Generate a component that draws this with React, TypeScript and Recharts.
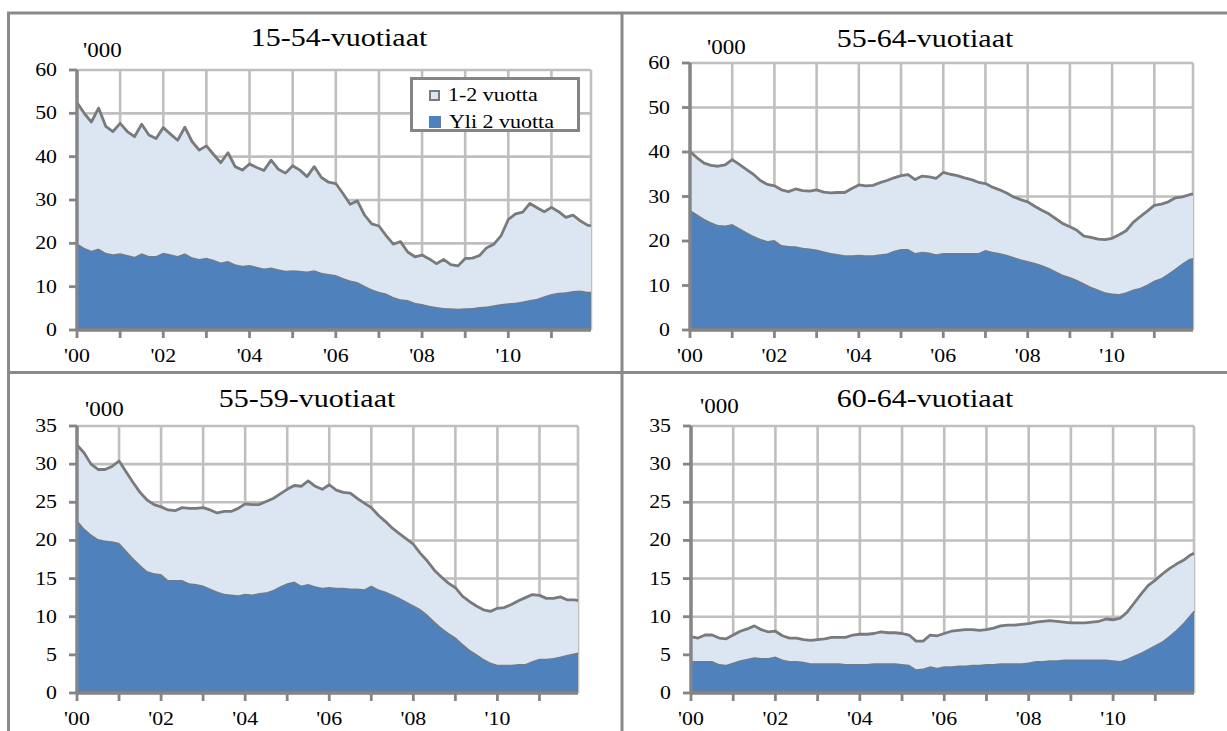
import React from 'react';
import { AreaChart, Area, XAxis, YAxis, CartesianGrid, Legend } from 'recharts';

// months since Jan 2000 (bimonthly readings, last point Dec 2011)
const months = [
  0, 2, 4, 6, 8, 10, 12, 14, 16, 18, 20, 22,
  24, 26, 28, 30, 32, 34, 36, 38, 40, 42, 44, 46,
  48, 50, 52, 54, 56, 58, 60, 62, 64, 66, 68, 70,
  72, 74, 76, 78, 80, 82, 84, 86, 88, 90, 92, 94,
  96, 98, 100, 102, 104, 106, 108, 110, 112, 114, 116, 118,
  120, 122, 124, 126, 128, 130, 132, 134, 136, 138, 140, 142,
  143,
];

const yearTicks = [0, 12, 24, 36, 48, 60, 72, 84, 96, 108, 120, 132];
const yearLabels = ["'00", '', "'02", '', "'04", '', "'06", '', "'08", '', "'10", ''];

const ticks60 = [0, 10, 20, 30, 40, 50, 60];
const ticks35 = [0, 5, 10, 15, 20, 25, 30, 35];

const panelTitles = ['15-54-vuotiaat', '55-64-vuotiaat', '55-59-vuotiaat', '60-64-vuotiaat'];
const unitLabel = "'000";
const legendNames = ['1-2 vuotta', 'Yli 2 vuotta'];

// 15-54-vuotiaat
const tlYli2 = [
  20, 19, 18.3, 18.8, 17.8, 17.5, 17.7, 17.3, 16.9, 17.7, 17.1, 17.1,
  17.8, 17.5, 17.1, 17.7, 16.8, 16.4, 16.7, 16.2, 15.6, 15.9, 15.2, 14.8,
  15, 14.6, 14.2, 14.4, 14, 13.7, 13.8, 13.7, 13.5, 13.8, 13.2, 12.9,
  12.7, 12, 11.4, 11.1, 10.2, 9.4, 8.8, 8.4, 7.6, 7.1, 6.9, 6.3,
  6, 5.6, 5.3, 5.1, 5, 4.9, 5, 5.1, 5.3, 5.4, 5.7, 6,
  6.2, 6.3, 6.6, 6.9, 7.2, 7.8, 8.3, 8.6, 8.7, 9, 9.1, 8.8,
  8.8,
];
const tlV12 = [
  32.5, 31, 29.7, 32.4, 29.2, 28.3, 30, 28.5, 27.7, 29.8, 27.9, 27.1,
  28.9, 27.7, 26.7, 29.1, 26.7, 25.1, 25.8, 24.3, 23, 25, 22.5, 22.1,
  23.3, 22.9, 22.6, 24.8, 23.1, 22.5, 24.1, 23.2, 21.9, 23.9, 22, 21.2,
  21.1, 19.5, 17.6, 18.7, 16.3, 15.1, 15.2, 13.4, 12.2, 13.3, 11.1, 10.6,
  11.3, 10.8, 10, 11.2, 10.1, 9.9, 11.5, 11.5, 11.9, 13.6, 14.1, 15.8,
  19.3, 20.5, 20.6, 22.3, 21, 19.5, 20, 18.7, 17.3, 17.5, 16.1, 15.4,
  15.2,
];

// 55-64-vuotiaat
const trYli2 = [
  27, 26, 25, 24.2, 23.6, 23.5, 23.8, 22.9, 22, 21.2, 20.5, 20,
  20.2, 19.1, 18.9, 18.8, 18.5, 18.3, 18.1, 17.7, 17.3, 17.1, 16.8, 16.8,
  16.9, 16.8, 16.8, 17, 17.2, 17.8, 18.2, 18.2, 17.3, 17.6, 17.4, 17,
  17.3, 17.3, 17.3, 17.3, 17.3, 17.3, 18, 17.6, 17.3, 16.9, 16.4, 15.9,
  15.5, 15.1, 14.6, 14, 13.2, 12.4, 11.9, 11.3, 10.5, 9.7, 9.1, 8.5,
  8.2, 8.1, 8.5, 9.1, 9.5, 10.2, 11.1, 11.7, 12.7, 13.8, 15, 16,
  16.2,
];
const trV12 = [
  13.1, 12.7, 12.5, 12.8, 13.2, 13.6, 14.5, 14.3, 14.1, 13.8, 13.1, 12.7,
  12.2, 12.4, 12.2, 12.9, 12.8, 12.9, 13.4, 13.3, 13.5, 13.8, 14.1, 15,
  15.7, 15.6, 15.7, 16.1, 16.4, 16.4, 16.5, 16.7, 16.5, 17, 17, 17.1,
  18.1, 17.7, 17.4, 16.9, 16.5, 15.9, 14.9, 14.5, 14.2, 13.9, 13.5, 13.4,
  13.3, 12.7, 12.3, 12.1, 11.8, 11.5, 11.3, 11.1, 10.6, 11.1, 11.3, 11.8,
  12.4, 13.3, 13.8, 15.1, 16, 16.5, 16.9, 16.6, 16.1, 15.9, 14.9, 14.4,
  14.4,
];

// 55-59-vuotiaat
const blYli2 = [
  22.7, 21.6, 20.8, 20.2, 20, 19.9, 19.7, 18.7, 17.7, 16.8, 16, 15.7,
  15.6, 14.8, 14.8, 14.8, 14.4, 14.3, 14.1, 13.7, 13.3, 13, 12.9, 12.8,
  13, 12.9, 13.1, 13.2, 13.5, 14, 14.4, 14.6, 14.1, 14.3, 14, 13.8,
  13.9, 13.8, 13.8, 13.7, 13.7, 13.6, 14.1, 13.6, 13.3, 12.9, 12.5, 12,
  11.5, 11, 10.3, 9.4, 8.6, 7.9, 7.3, 6.5, 5.7, 5.1, 4.5, 4,
  3.7, 3.7, 3.7, 3.8, 3.8, 4.2, 4.5, 4.5, 4.6, 4.8, 5, 5.2,
  5.3,
];
const blV12 = [
  9.8, 9.9, 9.2, 9.1, 9.3, 9.8, 10.7, 10.3, 9.9, 9.5, 9.3, 9,
  8.8, 9.2, 9.1, 9.5, 9.8, 9.9, 10.2, 10.3, 10.3, 10.8, 10.9, 11.4,
  11.8, 11.8, 11.6, 11.9, 12, 12.1, 12.3, 12.6, 13, 13.5, 13.1, 12.9,
  13.4, 12.8, 12.5, 12.5, 11.8, 11.3, 10.2, 9.7, 9.2, 8.7, 8.4, 8.2,
  8, 7.3, 7, 6.7, 6.6, 6.5, 6.5, 6.2, 6.3, 6.3, 6.4, 6.7,
  7.4, 7.5, 7.9, 8.3, 8.7, 8.7, 8.3, 7.9, 7.8, 7.8, 7.2, 7,
  6.8,
];

// 60-64-vuotiaat
const brYli2 = [
  4.2, 4.2, 4.2, 4.2, 3.8, 3.7, 4, 4.3, 4.5, 4.7, 4.6, 4.6,
  4.8, 4.4, 4.2, 4.2, 4.1, 3.9, 3.9, 3.9, 3.9, 3.9, 3.8, 3.8,
  3.8, 3.8, 3.9, 3.9, 3.9, 3.9, 3.8, 3.7, 3.1, 3.2, 3.5, 3.3,
  3.5, 3.5, 3.6, 3.6, 3.7, 3.7, 3.8, 3.8, 3.9, 3.9, 3.9, 3.9,
  4, 4.2, 4.2, 4.3, 4.3, 4.4, 4.4, 4.4, 4.4, 4.4, 4.4, 4.4,
  4.3, 4.2, 4.5, 4.9, 5.3, 5.8, 6.3, 6.8, 7.5, 8.3, 9.2, 10.3,
  10.8,
];
const brV12 = [
  3.2, 3, 3.4, 3.4, 3.4, 3.4, 3.6, 3.8, 3.9, 4.1, 3.7, 3.4,
  3.3, 3.1, 3, 3, 2.9, 3, 3.1, 3.2, 3.4, 3.4, 3.5, 3.8,
  3.9, 3.9, 3.9, 4.1, 4, 4, 4, 3.9, 3.7, 3.6, 4.1, 4.2,
  4.3, 4.6, 4.6, 4.7, 4.6, 4.5, 4.5, 4.7, 4.9, 5, 5, 5.1,
  5.1, 5.1, 5.2, 5.2, 5.1, 4.9, 4.8, 4.8, 4.8, 4.9, 5, 5.3,
  5.3, 5.6, 6.1, 6.9, 7.7, 8.3, 8.5, 8.8, 8.8, 8.6, 8.2, 7.8,
  7.5,
];

const BLUE = '#4f81bd';
const LIGHT = '#dce6f2';
const LINE = '#7a7a7a';
const AXIS = '#858585';
const GRID = '#bfbfbf';
const FRAME = '#8a8a8a';
const FONT = 'Liberation Serif';

function buildRows(yli2: number[], v12: number[]) {
  return months.map((m, i) => ({ m, yli2: yli2[i], v12: v12[i] }));
}

const YTick = (props: any) => {
  const { x, y, payload } = props;
  return (
    <g transform={`translate(${x},${y}) scale(1.15,1)`}>
      <text x={0} y={0} dy={6} textAnchor="end" fontFamily={FONT} fontSize={19} fill="#000">
        {payload.value}
      </text>
    </g>
  );
};

const XTick = (props: any) => {
  const { x, y, index } = props;
  return (
    <g transform={`translate(${x},${y}) scale(1.15,1)`}>
      <text x={0} y={0} dy={22} textAnchor="middle" fontFamily={FONT} fontSize={19} fill="#000">
        {yearLabels[index]}
      </text>
    </g>
  );
};

const LegendBox = () => (
  <div
    style={{
      width: 170,
      height: 55,
      boxSizing: 'border-box',
      border: `3px solid ${AXIS}`,
      background: '#fff',
      position: 'relative',
      fontFamily: FONT,
      fontSize: 18,
      color: '#000',
    }}
  >
    {legendNames.map((name, i) => (
      <div key={name} style={{ position: 'absolute', left: 16, top: i === 0 ? 5 : 32, height: 20, display: 'flex', alignItems: 'center' }}>
        <span
          style={{
            display: 'inline-block',
            width: i === 0 ? 11 : 12,
            height: i === 0 ? 11 : 12,
            boxSizing: 'border-box',
            background: i === 0 ? LIGHT : BLUE,
            border: i === 0 ? `2.5px solid ${LINE}` : 'none',
          }}
        />
        <span style={{ display: 'inline-block', marginLeft: 8, transform: 'scaleX(1.22)', transformOrigin: 'left center', lineHeight: '20px' }}>
          {name}
        </span>
      </div>
    ))}
  </div>
);

type PanelLayout = {
  left: number; top: number; width: number; height: number;
  yWidth: number; mTop: number; mRight: number; xHeight: number;
  titleX: number; titleY: number; unitX: number; unitY: number;
};

const layouts: PanelLayout[] = [
  { left: 8, top: 13, width: 614, height: 359, yWidth: 69, mTop: 57, mRight: 31, xHeight: 42, titleX: 339, titleY: 46, unitX: 83, unitY: 57 },
  { left: 622, top: 13, width: 605, height: 359, yWidth: 68, mTop: 50, mRight: 34, xHeight: 42, titleX: 925, titleY: 47, unitX: 707, unitY: 54 },
  { left: 8, top: 372, width: 614, height: 359, yWidth: 69, mTop: 54, mRight: 44, xHeight: 38, titleX: 307, titleY: 407, unitX: 85, unitY: 416 },
  { left: 622, top: 372, width: 605, height: 359, yWidth: 69, mTop: 54, mRight: 33, xHeight: 38, titleX: 925, titleY: 407, unitX: 700, unitY: 413 },
];

function Panel({ lay, rows, yTicks, legend }: { lay: PanelLayout; rows: any[]; yTicks: number[]; legend?: boolean }) {
  const yMax = yTicks[yTicks.length - 1];
  return (
    <div style={{ position: 'absolute', left: lay.left, top: lay.top }}>
      <AreaChart width={lay.width} height={lay.height} data={rows} margin={{ top: lay.mTop, right: lay.mRight, bottom: 0, left: 0 }}>
        <CartesianGrid stroke={GRID} strokeWidth={2.6} />
        <Area
          type="linear"
          dataKey="yli2"
          name={legendNames[1]}
          stackId="s"
          fill={BLUE}
          fillOpacity={1}
          stroke={LINE}
          strokeWidth={2.8}
          strokeLinejoin="round"
          isAnimationActive={false}
        />
        <Area
          type="linear"
          dataKey="v12"
          name={legendNames[0]}
          stackId="s"
          fill={LIGHT}
          fillOpacity={1}
          stroke={LINE}
          strokeWidth={2.8}
          strokeLinejoin="round"
          isAnimationActive={false}
        />
        <XAxis
          dataKey="m"
          type="number"
          domain={[0, 143]}
          ticks={yearTicks}
          interval={0}
          height={lay.xHeight}
          tickSize={8}
          axisLine={{ stroke: AXIS, strokeWidth: 3.4 }}
          tickLine={{ stroke: AXIS, strokeWidth: 2.8 }}
          tick={(p: any) => <XTick {...p} />}
        />
        <YAxis
          type="number"
          domain={[0, yMax]}
          ticks={yTicks}
          interval={0}
          width={lay.yWidth}
          tickSize={8}
          tickMargin={12}
          axisLine={{ stroke: AXIS, strokeWidth: 3.4 }}
          tickLine={{ stroke: AXIS, strokeWidth: 2.8 }}
          tick={(p: any) => <YTick {...p} />}
        />
        <XAxis xAxisId="top" orientation="top" dataKey="m" type="number" domain={[0, 143]} height={0} tick={false} tickLine={false} axisLine={{ stroke: AXIS, strokeWidth: 3.4 }} />
        <YAxis yAxisId="right" orientation="right" type="number" domain={[0, yMax]} width={0} tick={false} tickLine={false} axisLine={{ stroke: AXIS, strokeWidth: 3.4 }} />
        {legend && (
          <Legend
            layout="vertical"
            align="center"
            verticalAlign="middle"
            content={() => <LegendBox />}
            wrapperStyle={{ left: 402, top: 64, width: 170, height: 55 }}
          />
        )}
      </AreaChart>
    </div>
  );
}

export default function App() {
  const panels = [
    { rows: buildRows(tlYli2, tlV12), yTicks: ticks60, legend: true },
    { rows: buildRows(trYli2, trV12), yTicks: ticks60 },
    { rows: buildRows(blYli2, blV12), yTicks: ticks35 },
    { rows: buildRows(brYli2, brV12), yTicks: ticks35 },
  ];

  return (
    <div style={{ position: 'absolute', left: 0, top: 0, width: 1227, height: 731, overflow: 'hidden', background: '#fff' }}>
      <svg width={1227} height={731} style={{ position: 'absolute', left: 0, top: 0 }}>
        {/* panel frame */}
        <line x1={8.5} y1={13} x2={8.5} y2={731} stroke={FRAME} strokeWidth={3} />
        <line x1={7} y1={13} x2={1227} y2={13} stroke={FRAME} strokeWidth={3} />
        <line x1={622} y1={13} x2={622} y2={731} stroke={FRAME} strokeWidth={3} />
        <line x1={7} y1={372.5} x2={1227} y2={372.5} stroke={FRAME} strokeWidth={3} />
        {layouts.map((lay, i) => (
          <g key={i}>
            <g transform={`translate(${lay.titleX},${lay.titleY}) scale(1.2,1)`}>
              <text textAnchor="middle" fontFamily={FONT} fontSize={25} fill="#000">{panelTitles[i]}</text>
            </g>
            <g transform={`translate(${lay.unitX},${lay.unitY}) scale(1.15,1)`}>
              <text textAnchor="start" fontFamily={FONT} fontSize={20} fill="#000">{unitLabel}</text>
            </g>
          </g>
        ))}
      </svg>
      {panels.map((p, i) => (
        <Panel key={i} lay={layouts[i]} rows={p.rows} yTicks={p.yTicks} legend={p.legend} />
      ))}
    </div>
  );
}
